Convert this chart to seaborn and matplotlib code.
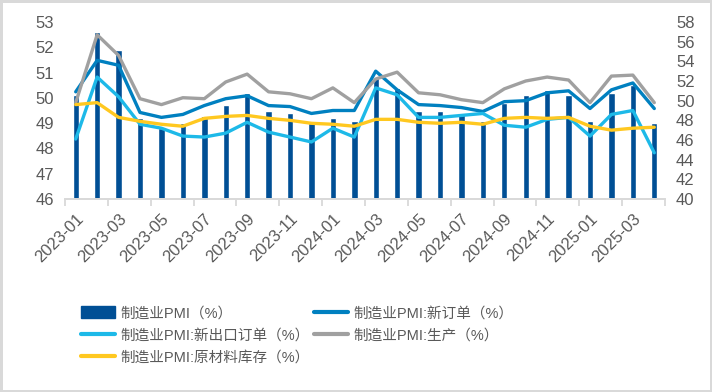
import numpy as np
import pandas as pd
import matplotlib
matplotlib.use("Agg")
import matplotlib.pyplot as plt
from matplotlib.patches import Patch
from matplotlib.lines import Line2D
import seaborn as sns

# 数据：2023-01 至 2025-04
months = pd.period_range("2023-01", "2025-04", freq="M").strftime("%Y-%m").tolist()
pmi = [50.1, 52.6, 51.9, 49.2, 48.8, 49.0, 49.3, 49.7, 50.2, 49.5, 49.4, 49.0,
       49.2, 49.1, 50.8, 50.4, 49.5, 49.5, 49.4, 49.1, 49.8, 50.1, 50.3, 50.1,
       49.1, 50.2, 50.5, 49.0]
new_orders = [50.9, 54.1, 53.6, 48.8, 48.3, 48.6, 49.5, 50.2, 50.5, 49.5, 49.4, 48.7,
              49.0, 49.0, 53.0, 51.1, 49.6, 49.5, 49.3, 48.9, 49.9, 50.0, 50.8, 51.0,
              49.2, 51.1, 51.8, 49.2]
export_orders = [46.1, 52.4, 50.4, 47.6, 47.2, 46.4, 46.3, 46.7, 47.8, 46.8, 46.3, 45.8,
                 47.2, 46.3, 51.3, 50.6, 48.3, 48.3, 48.5, 48.7, 47.5, 47.3, 48.1, 48.3,
                 46.4, 48.6, 49.0, 44.7]
production = [49.8, 56.7, 54.6, 50.2, 49.6, 50.3, 50.2, 51.9, 52.7, 50.9, 50.7, 50.2,
              51.3, 49.8, 52.2, 52.9, 50.8, 50.6, 50.1, 49.8, 51.2, 52.0, 52.4, 52.1,
              49.8, 52.5, 52.6, 49.8]
raw_inventory = [49.6, 49.8, 48.3, 47.9, 47.6, 47.4, 48.2, 48.4, 48.5, 48.2, 48.0, 47.7,
                 47.6, 47.4, 48.1, 48.1, 47.8, 47.7, 47.8, 47.6, 48.2, 48.3, 48.2, 48.3,
                 47.4, 47.0, 47.2, 47.3]

labels = ["制造业PMI（%）", "制造业PMI:新订单（%）", "制造业PMI:新出口订单（%）",
          "制造业PMI:生产（%）", "制造业PMI:原材料库存（%）"]
colors = ["#004F95", "#0080C0", "#1DB9E8", "#A0A0A0", "#FFC820"]

sns.set_theme(style="white")
plt.rcParams["font.family"] = ["Liberation Sans", "Noto Sans CJK SC", "DejaVu Sans"]
txt = "#595959"

n = len(months)
df = pd.DataFrame({"month": months, "pmi": pmi, "idx": np.arange(n)})

fig = plt.figure(figsize=(7.12, 3.92), dpi=100)
ax = fig.add_axes([65 / 712, 1 - 199 / 392, 600 / 712, 177 / 392])
sns.barplot(data=df, x="month", y="pmi", color=colors[0], width=0.3,
            saturation=1, ax=ax)
ax.set_ylim(46, 53)
ax.set_yticks(range(46, 54))

ax2 = ax.twinx()
line_series = [new_orders, export_orders, production, raw_inventory]
for vals, c in zip(line_series, colors[1:]):
    sns.lineplot(x=df["idx"], y=vals, ax=ax2, color=c, lw=2.4,
                 solid_joinstyle="round", solid_capstyle="round")
ax2.set_ylim(40, 58)
ax2.set_yticks(range(40, 59, 2))
ax.set_xlim(-0.5, n - 0.5)

# x 轴：刻度线在类别之间，标签每两个月一个
ax.set_xticks(np.arange(-0.5, n, 2))
ax.set_xticklabels([])
ax.set_xticks(np.arange(0, n, 2), minor=True)
ax.set_xticklabels(months[::2], minor=True, rotation=45, ha="right",
                   rotation_mode="anchor", fontsize=12, color=txt)
ax.tick_params(axis="x", which="major", length=5, width=1.3, color="#D9D9D9",
               direction="out", bottom=True)
ax.tick_params(axis="x", which="minor", length=0, pad=9)
ax.set_xlabel("")
ax.set_ylabel("")
ax2.set_xlabel("")
ax2.set_ylabel("")

ax.tick_params(axis="y", length=0, labelsize=12, labelcolor=txt, pad=8)
ax2.tick_params(axis="y", length=0, labelsize=12, labelcolor=txt, pad=8)

for a in (ax, ax2):
    for s in ("top", "left", "right"):
        a.spines[s].set_visible(False)
    a.spines["bottom"].set_color("#D9D9D9")
    a.spines["bottom"].set_linewidth(1.3)
    a.grid(False)

handles = [Patch(color=colors[0])] + [Line2D([], [], color=c, lw=3) for c in colors[1:]]
order = [0, 2, 4, 1, 3]
fig.legend([handles[i] for i in order], [labels[i] for i in order],
           ncol=2, loc="upper left", bbox_to_anchor=(68 / 712, 1 - 293 / 392),
           frameon=False, fontsize=10.5, handlelength=2.3, handleheight=0.8,
           labelspacing=0.55, columnspacing=0.3, handletextpad=0.4, labelcolor=txt)

fig.patch.set_edgecolor("#D9D9D9")
fig.patch.set_linewidth(2.5)
fig.savefig("out.png", dpi=100, facecolor="white", edgecolor=fig.get_edgecolor())
